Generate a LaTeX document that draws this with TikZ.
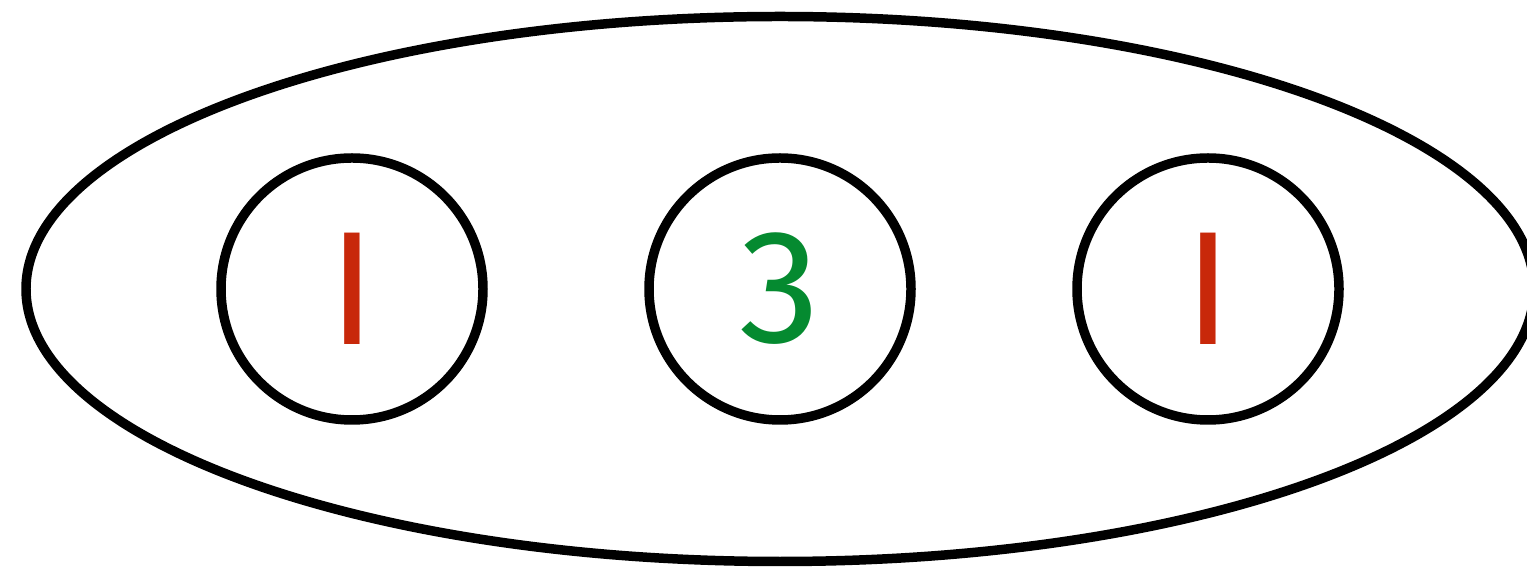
\documentclass[tikz,border=0pt]{standalone}
\usepackage{fontspec}
\setmainfont{Fira Sans}
\usetikzlibrary{shapes.geometric}
\definecolor{oneRed}{RGB}{200,40,10}
\definecolor{threeGreen}{RGB}{5,138,48}
\begin{document}
\begin{tikzpicture}[line cap=round,line join=round,x=1cm,y=1cm,
  ring/.style={circle,draw=black,line width=2.7pt,inner sep=0pt,minimum size=2.62cm,font=\fontsize{46}{46}\selectfont}]
\useasboundingbox (0,0) rectangle (15.27,5.69);
\node[ellipse,draw=black,line width=2.7pt,inner sep=0pt,minimum width=15.08cm,minimum height=5.45cm] (group) at (7.80,2.80) {};
\node[ring,text=oneRed] (left) at (3.52,2.80) {I};
\node[ring,text=threeGreen] (mid) at (7.80,2.80) {3};
\node[ring,text=oneRed] (right) at (12.08,2.80) {I};
\end{tikzpicture}
\end{document}
